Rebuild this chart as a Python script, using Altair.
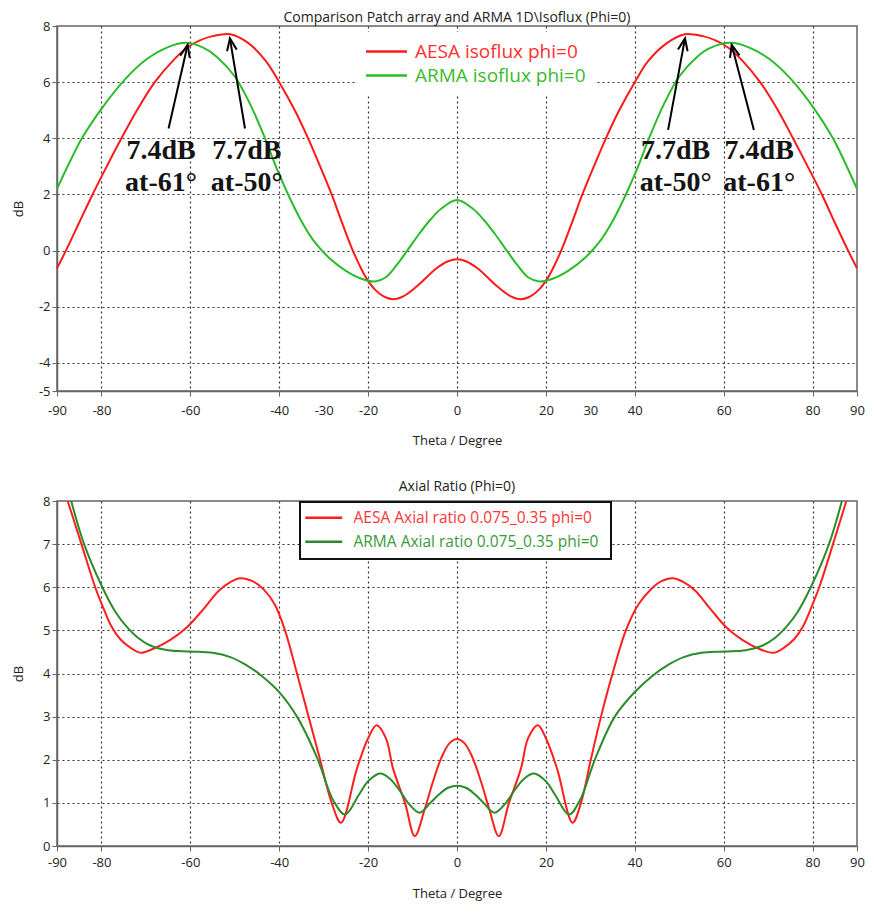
import math
import altair as alt
import pandas as pd

FONT = "Open Sans"

# ---------------- top panel: isoflux pattern ----------------
top_title = "Comparison Patch array and ARMA 1D\\Isoflux (Phi=0)"
top_series = ["AESA isoflux phi=0", "ARMA isoflux phi=0"]
top_colors = ["#ff1a1a", "#2bbb2b"]
top_label_colors = ["#ff3030", "#3cbb2c"]

aesa_theta = [-90, -88, -85, -82, -78.8, -75.5, -72, -68, -64, -61, -58, -55, -51, -47,
              -43, -40, -36.5, -33.5, -30.8, -28.2, -26, -23.7, -22, -20.4, -18.5, -16.6, -14.4,
              -12, -9.1, -4.6, -2, 0, 2, 4.6, 9.1, 12, 14.4, 16.6, 18.5, 20.4, 22, 23.7, 26, 28.2,
              30.8, 33.5, 36.5, 40, 43, 47.3, 51.3, 55.3, 58.3, 61.3, 64.3, 68.2, 72.2, 75.6,
              78.9, 82.1, 85, 88, 90]
aesa_db = [-0.63, 0.0, 1.0, 2.0, 3.0, 4.0, 5.0, 6.0, 6.75, 7.2, 7.48, 7.64, 7.71, 7.4,
           6.75, 6.0, 5.0, 4.0, 3.0, 2.0, 1.05, 0.1, -0.5, -0.98, -1.38, -1.62, -1.73,
           -1.62, -1.28, -0.63, -0.38, -0.31, -0.38, -0.63, -1.28, -1.62, -1.73, -1.62, -1.38, -0.98,
           -0.5, 0.1, 1.05, 2.0, 3.0, 4.0, 5.0, 6.0, 6.75, 7.4, 7.71, 7.64, 7.48, 7.2, 6.75,
           6.0, 5.0, 4.0, 3.0, 2.0, 1.0, 0.0, -0.63]

arma_theta = [-90, -87, -84.4, -80, -74.7, -70, -65, -61, -57, -54, -50, -46.5, -43.2, -40.5,
              -38, -35, -32, -28.5, -25, -21.5, -18.5, -16, -13.5, -11.2, -8.5, -6, -3.5, 0,
              3.5, 6, 8.5, 11.2, 13.5, 16, 18.5, 21.5, 25, 28.5, 32, 35, 38, 40.5, 43.2, 46.5,
              50, 54, 57, 61.5, 65.5, 70.5, 75.2, 80.4, 84.6, 87.1, 90]
arma_db = [2.2, 3.2, 4.0, 5.05, 6.1, 6.8, 7.25, 7.4, 7.22, 6.9, 6.2, 5.2, 4.0, 2.9,
           2.0, 1.05, 0.3, -0.3, -0.72, -1.0, -1.1, -0.95, -0.5, 0.0, 0.6, 1.1, 1.5, 1.8,
           1.5, 1.1, 0.6, 0.0, -0.5, -0.95, -1.1, -1.0, -0.72, -0.3, 0.3, 1.05, 2.0, 2.9, 4.0, 5.2,
           6.2, 6.9, 7.22, 7.4, 7.25, 6.8, 6.1, 5.05, 4.0, 3.2, 2.2]

# annotations (arrow tail -> arrow tip) and their labels
arrow_theta0 = [-64.9, -47.7, 47.5, 66.8]
arrow_db0 = [4.35, 4.35, 4.3, 4.3]
arrow_theta1 = [-60.6, -51.1, 51.3, 61.8]
arrow_db1 = [7.33, 7.56, 7.56, 7.33]
note_theta = [-66.6, -47.3, 49.2, 68.0]
note_db = [4.05, 4.05, 4.05, 4.05]
note_text = ["7.4dB\nat-61°", "7.7dB\nat-50°", "7.7dB\nat-50°", "7.4dB\nat-61°"]

top_x_ticks = [-90, -80, -60, -40, -30, -20, 0, 20, 30, 40, 60, 80, 90]
top_y_ticks = [8, 6, 4, 2, 0, -2, -4, -5]

# ---------------- bottom panel: axial ratio ----------------
bot_title = "Axial Ratio (Phi=0)"
bot_series = ["AESA Axial ratio 0.075_0.35 phi=0", "ARMA Axial ratio 0.075_0.35  phi=0"]
bot_colors = ["#ff1f1f", "#2a8c2a"]
bot_label_colors = ["#ff3535", "#3a9a3a"]

ar_aesa_theta = [-87.6, -84.5, -81.4, -79.5, -77.8, -75.8, -73.5, -71.2, -68.2, -64.5, -60.7, -57,
                 -53.6, -51, -48.8, -46, -43.5, -41, -38.7, -36, -33.4, -30.8, -28.2, -26.1, -22.5,
                 -20, -18.1, -16, -14.4, -11.7, -9.5, -7.3, -5.5, -3.5, -1.7, 0, 1.7, 3.5, 5.5, 7.3,
                 9.4, 11.7, 14.4, 16, 18.2, 20, 22.5, 26.0, 27.9, 30.1, 32.4, 35.0, 38.0, 40.8,
                 43.6, 46, 48.5, 51, 53.6, 57, 60.5, 64.2, 67.8, 71.3, 73.6, 75.9, 77.9, 79.6,
                 81.5, 84.6, 87.6]
ar_aesa = [8.0, 7.0, 6.0, 5.5, 5.1, 4.8, 4.6, 4.48, 4.58, 4.78, 5.08, 5.5,
           5.92, 6.12, 6.21, 6.14, 5.95, 5.6, 5.0, 4.0, 3.0, 2.0, 1.0, 0.54, 1.8,
           2.5, 2.8, 2.5, 1.8, 1.0, 0.23, 0.84, 1.46, 2.05, 2.38, 2.48, 2.38, 2.05, 1.46, 0.84,
           0.23, 1.0, 1.8, 2.5, 2.8, 2.5, 1.8, 0.54, 1.0, 2.0, 3.0, 4.0, 5.0, 5.6,
           5.95, 6.14, 6.21, 6.12, 5.92, 5.5, 5.08, 4.78, 4.58, 4.48, 4.6, 4.8, 5.1, 5.5,
           6.0, 7.0, 8.0]

ar_arma_theta = [-86.8, -83.9, -79.8, -76.8, -74.3, -71.8, -69, -65, -60, -55, -51, -47.5, -44, -40,
                 -36, -31.5, -27.8, -25.2, -22, -20, -17.3, -15, -13, -11, -8.4, -6, -4, -2, 0,
                 2, 4, 6, 8.4, 11, 13, 15, 17.3, 20, 22, 25.2, 27.6, 31.2, 35.5, 40, 44, 47.5,
                 51, 55, 60, 65, 68.8, 71.6, 74.1, 76.6, 79.6, 83.7, 86.6]
ar_arma = [8.0, 7.0, 6.0, 5.42, 5.08, 4.83, 4.65, 4.54, 4.51, 4.48, 4.38, 4.2, 3.95, 3.57,
           3.0, 2.05, 1.05, 0.73, 1.2, 1.5, 1.68, 1.55, 1.3, 1.0, 0.77, 1.0, 1.2, 1.35, 1.4,
           1.35, 1.2, 1.0, 0.77, 1.0, 1.3, 1.55, 1.68, 1.5, 1.2, 0.73, 1.05, 2.05, 3.0, 3.57,
           3.95, 4.2, 4.38, 4.48, 4.51, 4.54, 4.65, 4.83, 5.08, 5.42, 6.0, 7.0, 8.0]

bot_x_ticks = [-90, -80, -60, -40, -20, 0, 20, 40, 60, 80, 90]
bot_y_ticks = [0, 1, 2, 3, 4, 5, 6, 7, 8]

# ---------------- sizes ----------------
W = 800
H_TOP = 365
H_BOT = 345

HYPHEN = "datum.value < 0 ? '-' + abs(datum.value) : '' + datum.value"


def long_df(thetas, values, names):
    rows = []
    for t_list, v_list, n in zip(thetas, values, names):
        for i, (t, v) in enumerate(zip(t_list, v_list)):
            rows.append({"theta": t, "val": v, "series": n, "order": i})
    return pd.DataFrame(rows)


def axis(values, grid_test, title_pad, label_pad, **kw):
    return alt.Axis(
        values=values, labelExpr=HYPHEN,
        labelFont=FONT, labelFontSize=13, labelColor="#222",
        titleFont=FONT, titleFontSize=13, titleColor="#222", titleFontWeight="normal",
        domainColor="#666", domainWidth=1.5, tickColor="#666", tickSize=5, tickWidth=1,
        grid=True, gridColor="#333", gridDash=[2, 3], gridWidth=1.2,
        gridOpacity={"condition": {"test": grid_test, "value": 1}, "value": 0},
        labelFlush=False, labelOverlap=False,
        titlePadding=title_pad, labelPadding=label_pad, **kw)


def label_color_expr(names, colors):
    return {"expr": f"datum.label == '{names[0]}' ? '{colors[0]}' : '{colors[1]}'"}


# ---------- top chart ----------
top_df = long_df([aesa_theta, arma_theta], [aesa_db, arma_db], top_series)

x_top = alt.X("theta:Q", title="Theta / Degree",
              scale=alt.Scale(domain=[-90, 90], nice=False, zero=False),
              axis=axis(top_x_ticks, "abs(datum.value) % 20 == 0 && abs(datum.value) < 90", 17, 8,
                        tickOpacity={"condition": {"test": "abs(datum.value) == 30", "value": 0},
                                     "value": 1}))
y_top = alt.Y("val:Q", title="dB",
              scale=alt.Scale(domain=[-5, 8], nice=False, zero=False),
              axis=axis(top_y_ticks, "datum.value < 8 && datum.value > -5", 2, 2, minExtent=30))

top_lines = alt.Chart(top_df).mark_line(strokeWidth=2, interpolate="catmull-rom").encode(
    x=x_top, y=y_top, order="order:Q",
    color=alt.Color("series:N",
                    scale=alt.Scale(domain=top_series, range=top_colors),
                    legend=alt.Legend(
                        title=None, orient="none", legendX=299, legendY=6,
                        symbolType="M-3,0L3,0", symbolSize=187, symbolStrokeWidth=2.5,
                        symbolOffset=11, labelOffset=19, padding=10, rowPadding=4,
                        fillColor="white", labelFont=FONT, labelFontSize=19, labelLimit=400,
                        labelColor=label_color_expr(top_series, top_label_colors))))

px_deg = W / 180.0
px_unit = H_TOP / 13.0
arrow_angle = []
for t0, v0, t1, v1 in zip(arrow_theta0, arrow_db0, arrow_theta1, arrow_db1):
    a = math.degrees(math.atan2((t1 - t0) * px_deg, (v1 - v0) * px_unit))
    arrow_angle.append(a % 360)

arrow_df = pd.DataFrame({"theta": arrow_theta0, "val": arrow_db0,
                         "theta2": arrow_theta1, "val2": arrow_db1})
head_df = pd.DataFrame({"theta": arrow_theta1, "val": arrow_db1, "ang": arrow_angle})
note_df = pd.DataFrame({"theta": note_theta, "val": note_db, "label": note_text})

arrows = alt.Chart(arrow_df).mark_rule(color="black", strokeWidth=2).encode(
    x=x_top, y=y_top, x2="theta2:Q", y2="val2:Q")
heads = alt.Chart(head_df).mark_point(
    shape="M-0.8,2L0,0L0.8,2", size=150, filled=False, stroke="black",
    strokeWidth=2, opacity=1).encode(
    x=x_top, y=y_top, angle=alt.Angle("ang:Q", scale=None))
notes = alt.Chart(note_df).mark_text(
    font="Liberation Serif", fontWeight="bold", fontSize=28, lineBreak="\n",
    lineHeight=32, align="center", baseline="top", color="#141414").encode(
    x=x_top, y=y_top, text="label:N")

top = alt.layer(top_lines, arrows, heads, notes).properties(
    width=W, height=H_TOP,
    title=alt.TitleParams(top_title, font=FONT, fontSize=14, fontWeight="normal",
                          color="#222", offset=-5, anchor="middle", frame="group"))

# ---------- bottom chart ----------
bot_df = long_df([ar_aesa_theta, ar_arma_theta], [ar_aesa, ar_arma], bot_series)

x_bot = alt.X("theta:Q", title="Theta / Degree",
              scale=alt.Scale(domain=[-90, 90], nice=False, zero=False),
              axis=axis(bot_x_ticks, "abs(datum.value) < 90", 18, 5))
y_bot = alt.Y("val:Q", title="dB",
              scale=alt.Scale(domain=[0, 8], nice=False, zero=False),
              axis=axis(bot_y_ticks, "datum.value > 0 && datum.value < 8", 2, 2, minExtent=30))

bottom = alt.Chart(bot_df).mark_line(strokeWidth=2, interpolate="catmull-rom").encode(
    x=x_bot, y=y_bot, order="order:Q",
    color=alt.Color("series:N",
                    scale=alt.Scale(domain=bot_series, range=bot_colors),
                    legend=alt.Legend(
                        title=None, orient="none", legendX=243, legendY=1,
                        symbolType="M-3,0L3,0", symbolSize=152, symbolStrokeWidth=2.5,
                        symbolOffset=8, labelOffset=22, padding=8, rowPadding=7,
                        fillColor="white", strokeColor="#111",
                        labelFont=FONT, labelFontSize=15.5, labelLimit=400,
                        labelColor=label_color_expr(bot_series, bot_label_colors)))
).properties(
    width=W, height=H_BOT,
    title=alt.TitleParams(bot_title, font=FONT, fontSize=14, fontWeight="normal",
                          color="#222", offset=1.5, anchor="middle", frame="group"))

chart = alt.vconcat(top, bottom, spacing=30).resolve_scale(
    color="independent").resolve_legend(color="independent").properties(
    padding={"left": 3, "top": 2, "right": 0, "bottom": 0},
    background="white"
).configure_view(stroke="#666", strokeWidth=1.5).configure_legend(strokeWidth=2)

chart.save("out.html", embed_options={"renderer": "svg", "actions": False})
